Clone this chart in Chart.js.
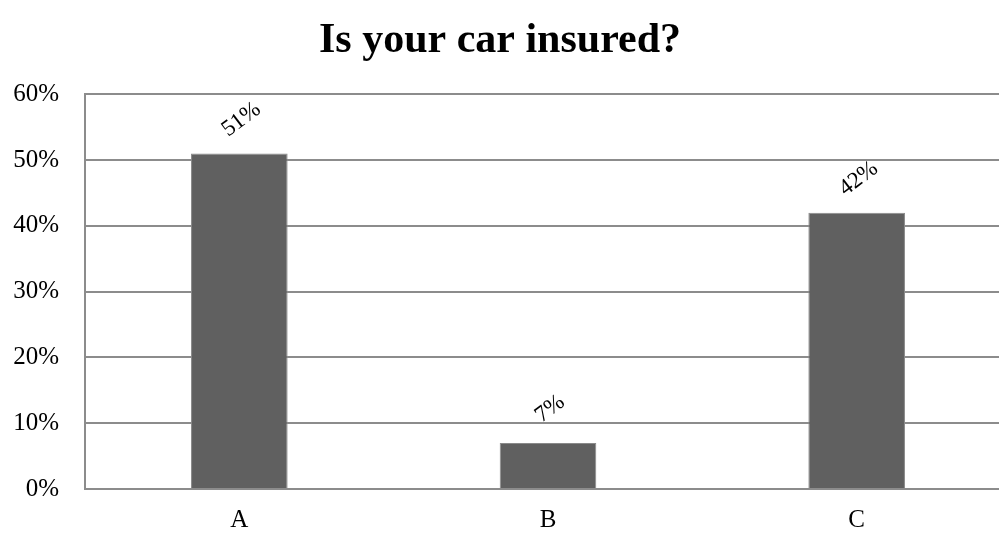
<!DOCTYPE html>
<html>
<head>
<meta charset="utf-8">
<script src="https://cdn.jsdelivr.net/npm/chart.js@4"></script>
<style>
  html, body { margin: 0; background: #fff; overflow: hidden; }
  #wrap { width: 1011px; height: 533px; }
</style>
</head>
<body>
<div id="wrap"><canvas id="myChart"></canvas></div>
<script>
var categories = ['A', 'B', 'C'];
var values = [51, 7, 42];
var yTicks = [0, 10, 20, 30, 40, 50, 60];

var serif = '"Liberation Serif", "Times New Roman", serif';

// rotated value labels above each bar
var barLabels = {
    id: 'barLabels',
    afterDatasetsDraw: function (chart) {
        var ctx = chart.ctx;
        var meta = chart.getDatasetMeta(0);
        ctx.save();
        ctx.font = '23px ' + serif;
        ctx.fillStyle = '#000';
        ctx.textAlign = 'center';
        ctx.textBaseline = 'middle';
        meta.data.forEach(function (bar, i) {
            ctx.save();
            ctx.translate(bar.x + 2, bar.y - 34);
            ctx.rotate(-37 * Math.PI / 180);
            ctx.fillText(values[i] + '%', 0, 0);
            ctx.restore();
        });
        ctx.restore();
    }
};

new Chart(document.getElementById('myChart'), {
    type: 'bar',
    data: {
        labels: categories,
        datasets: [{
            data: values,
            backgroundColor: '#606060',
            borderColor: '#8a8a8a',
            borderWidth: 1,
            categoryPercentage: 1,
            barPercentage: 0.313
        }]
    },
    options: {
        responsive: true,
        maintainAspectRatio: false,
        animation: false,
        layout: { padding: { left: -11, right: 0, bottom: 0 } },
        plugins: {
            legend: { display: false },
            tooltip: { enabled: false },
            title: {
                display: true,
                text: 'Is your car insured?',
                color: '#000',
                font: { family: serif, size: 42, weight: 'bold' },
                padding: { top: 16, bottom: 28 }
            }
        },
        scales: {
            x: {
                grid: { display: false, drawTicks: false },
                border: { color: '#8c8c8c', width: 2 },
                ticks: { color: '#000', font: { family: serif, size: 25 }, padding: 16 },
                afterFit: function (axis) { axis.height = 44; }
            },
            y: {
                min: 0,
                max: 60,
                afterBuildTicks: function (axis) {
                    axis.ticks = yTicks.map(function (v) { return { value: v }; });
                },
                afterFit: function (axis) { axis.width = 96; },
                grid: { color: '#8c8c8c', lineWidth: 2, drawTicks: false },
                border: { color: '#8c8c8c', width: 2 },
                ticks: {
                    color: '#000',
                    font: { family: serif, size: 25 },
                    padding: 26,
                    callback: function (v) { return v + '%'; }
                }
            }
        }
    },
    plugins: [barLabels]
});
</script>
</body>
</html>
